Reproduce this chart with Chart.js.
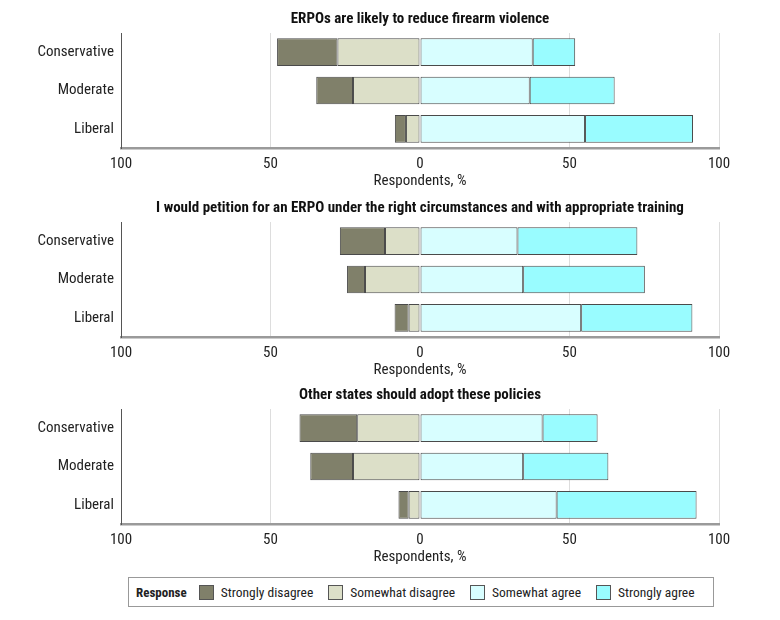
<!DOCTYPE html>
<html>
<head>
<meta charset="utf-8">
<script src="https://cdn.jsdelivr.net/npm/chart.js@4"></script>
<style>
  body { margin: 0; background: #fff; }
  #wrap { position: relative; width: 780px; height: 620px; }
  canvas { position: absolute; left: 0; }
  #legend {
    position: absolute; left: 128px; top: 577px; width: 584px; height: 28px;
    border: 1px solid #999; box-sizing: content-box;
    display: flex; align-items: center;
    font-family: "Roboto Condensed", "DejaVu Sans Condensed", sans-serif;
    font-size: 13.5px; color: #222; white-space: nowrap;
  }
  #legend .head { font-weight: bold; font-size: 13px; margin-left: 7px; margin-right: 12px; }
  #legend .item { display: flex; align-items: center; margin-right: 15px; }
  #legend .sw { width: 13px; height: 13px; border: 1px solid #555; margin-right: 7px; }
</style>
</head>
<body>
<div id="wrap">
  <canvas id="c0" width="780" height="190" style="top:0px"></canvas>
  <canvas id="c1" width="780" height="190" style="top:189px"></canvas>
  <canvas id="c2" width="780" height="190" style="top:376px"></canvas>
  <div id="legend"></div>
</div>
<script>
const categories = ["Conservative", "Moderate", "Liberal"];
const panelTitles = [
  "ERPOs are likely to reduce firearm violence",
  "I would petition for an ERPO under the right circumstances and with appropriate training",
  "Other states should adopt these policies"
];
const responses = ["Strongly disagree", "Somewhat disagree", "Somewhat agree", "Strongly agree"];
const colors = ["#80806a", "#dcdfc8", "#d8feff", "#99fcff"];

// one row per panel, values in % (disagree shown to the left of 0)
const stronglyDisagree = [[20.2, 12.3, 3.7], [15.1, 6.0, 4.7], [19.3, 14.3, 3.4]];
const somewhatDisagree = [[27.6, 22.4, 4.7], [11.7, 18.4, 3.8], [21.0, 22.4, 3.8]];
const somewhatAgree = [[37.7, 36.7, 55.2], [32.6, 34.5, 53.9], [41.0, 34.5, 45.7]];
const stronglyAgree = [[14.2, 28.4, 36.1], [40.1, 40.7, 37.2], [18.4, 28.5, 46.8]];

const tickValues = [-100, -50, 0, 50, 100];
const axisTitle = "Respondents, %";

const FONT = "'Roboto Condensed', 'DejaVu Sans Condensed', sans-serif";

const makeDataset = (label, color, data) => ({
  label: label,
  data: data,
  backgroundColor: color,
  borderColor: "#4a4a4a",
  borderWidth: 1,
  borderSkipped: false,
  barPercentage: 0.72,
  categoryPercentage: 1.0
});

const drawPanel = (i) => {
  const ctx = document.getElementById("c" + i).getContext("2d");
  new Chart(ctx, {
    type: "bar",
    data: {
      labels: categories,
      datasets: [
        // negative stack: the first one sits next to 0
        makeDataset(responses[1], colors[1], somewhatDisagree[i].map(v => -v)),
        makeDataset(responses[0], colors[0], stronglyDisagree[i].map(v => -v)),
        makeDataset(responses[2], colors[2], somewhatAgree[i]),
        makeDataset(responses[3], colors[3], stronglyAgree[i])
      ]
    },
    options: {
      indexAxis: "y",
      responsive: false,
      animation: false,
      devicePixelRatio: 1,
      layout: { padding: { left: 0, right: 61, top: 0, bottom: 0 } },
      plugins: {
        legend: { display: false },
        tooltip: { enabled: false },
        title: {
          display: true,
          fullSize: false,
          text: panelTitles[i],
          color: "#111",
          font: { family: FONT, size: 15, weight: "bold" },
          padding: { top: 10, bottom: 5 }
        }
      },
      scales: {
        x: {
          stacked: true,
          min: -100,
          max: 100,
          afterBuildTicks: (scale) => {
            scale.ticks = tickValues.map(v => ({ value: v }));
          },
          ticks: {
            color: "#222",
            padding: 7,
            font: { family: FONT, size: 15 },
            callback: (v) => Math.abs(v)
          },
          grid: {
            drawTicks: false,
            color: (c) => (c.tick && c.tick.value === 0 ? "rgba(0,0,0,0)" : "#dddddd"),
            lineWidth: 1
          },
          border: { display: true, color: "#9a9a9a", width: 2.5 },
          title: {
            display: true,
            text: axisTitle,
            color: "#222",
            font: { family: FONT, size: 15 },
            padding: { top: -8, bottom: 0 }
          }
        },
        y: {
          stacked: true,
          afterFit: (scale) => { scale.width = 121; },
          ticks: {
            color: "#222",
            padding: 7,
            font: { family: FONT, size: 15 }
          },
          grid: { display: false, drawTicks: false },
          border: { display: true, color: "#555", width: 1 }
        }
      }
    }
  });
};

for (let i = 0; i < panelTitles.length; i++) {
  drawPanel(i);
}

const legend = document.getElementById("legend");
let html = '<span class="head">Response</span>';
responses.forEach((r, k) => {
  html += '<span class="item"><span class="sw" style="background:' + colors[k] + '"></span>' + r + '</span>';
});
legend.innerHTML = html;
</script>
</body>
</html>
